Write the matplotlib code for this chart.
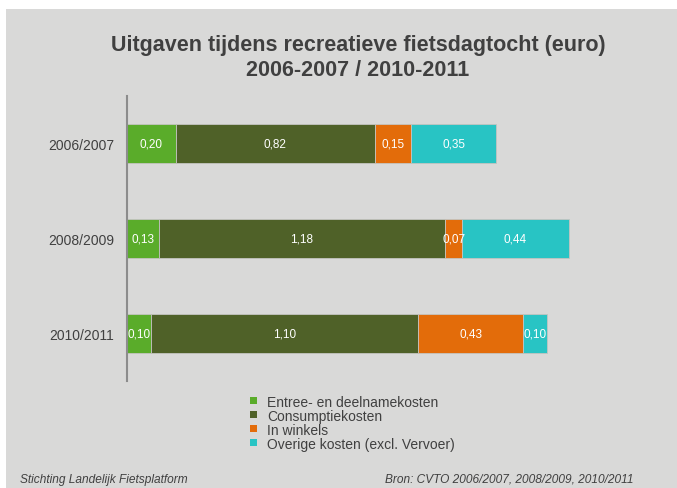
import matplotlib
matplotlib.use('Agg')
import matplotlib.pyplot as plt
from matplotlib.patches import Rectangle
import numpy as np

plt.rcParams['font.family'] = ['Liberation Sans', 'DejaVu Sans']

# data
periods = ['2006/2007', '2008/2009', '2010/2011']
categories = ['Entree- en deelnamekosten', 'Consumptiekosten', 'In winkels',
              'Overige kosten (excl. Vervoer)']
entree = [0.20, 0.13, 0.10]
consumptie = [0.82, 1.18, 1.10]
winkels = [0.15, 0.07, 0.43]
overig = [0.35, 0.44, 0.10]
colors = ['#5aac2a', '#4f6128', '#e36c0a', '#28c4c4']

fig = plt.figure(figsize=(6.77, 4.89), dpi=100, facecolor='white')
# grey panel with small white margin at top and left
fig.patches.append(Rectangle((6 / 677, 0), 1, 1 - 10 / 489, transform=fig.transFigure,
                             facecolor='#d9d9d8', edgecolor='none', zorder=-10))

ax = fig.add_axes([127 / 677, 1 - 382 / 489, 485.6 / 677, 285 / 489])
ax.set_facecolor('none')
ax.set_zorder(5)

y = np.arange(len(periods))
left = np.zeros(len(periods))
for vals, col in zip([entree, consumptie, winkels, overig], colors):
    vals = np.array(vals)
    ax.barh(y, vals, left=left, height=0.41, color=col, edgecolor='#c4c4c0',
            linewidth=0.6, zorder=2)
    for yi, l, v in zip(y, left, vals):
        ax.text(l + v / 2, yi, ('%.2f' % v).replace('.', ','), ha='center', va='center',
                color='white', fontsize=8.5, zorder=3)
    left = left + vals

ax.set_xlim(0, 2.0)
ax.set_ylim(2.5, -0.5)
ax.set_yticks(y)
ax.set_yticklabels(periods, fontsize=10, color='#404040')
ax.tick_params(axis='y', length=0, pad=9)
ax.set_xticks([])
for s in ['top', 'right', 'bottom']:
    ax.spines[s].set_visible(False)
ax.spines['left'].set_color('#8c8c8c')
ax.spines['left'].set_linewidth(1.5)

fig.text(358 / 677, 1 - 58 / 489,
         'Uitgaven tijdens recreatieve fietsdagtocht (euro)\n2006-2007 / 2010-2011',
         ha='center', va='center', fontsize=15.5, fontweight='bold', color='#404040',
         linespacing=1.25)

# legend drawn by hand as squares + labels
for i, (lab, col) in enumerate(zip(categories, colors)):
    yy = 1 - (404 + 14 * i) / 489
    fig.patches.append(Rectangle((250 / 677, yy - 1 / 489), 7 / 677, 7 / 489,
                                 transform=fig.transFigure, facecolor=col,
                                 edgecolor='none', zorder=3))
    fig.text(267 / 677, yy + 1 / 489, lab, ha='left', va='center', fontsize=10,
             color='#404040')

fig.text(20 / 677, 1 - 480 / 489, 'Stichting Landelijk Fietsplatform', ha='left',
         va='center', fontsize=8.6, style='italic', color='#404040')
fig.text(385 / 677, 1 - 480 / 489, 'Bron: CVTO 2006/2007, 2008/2009, 2010/2011',
         ha='left', va='center', fontsize=8.6, style='italic', color='#404040')

fig.savefig('out.png', dpi=100, facecolor=fig.get_facecolor())
